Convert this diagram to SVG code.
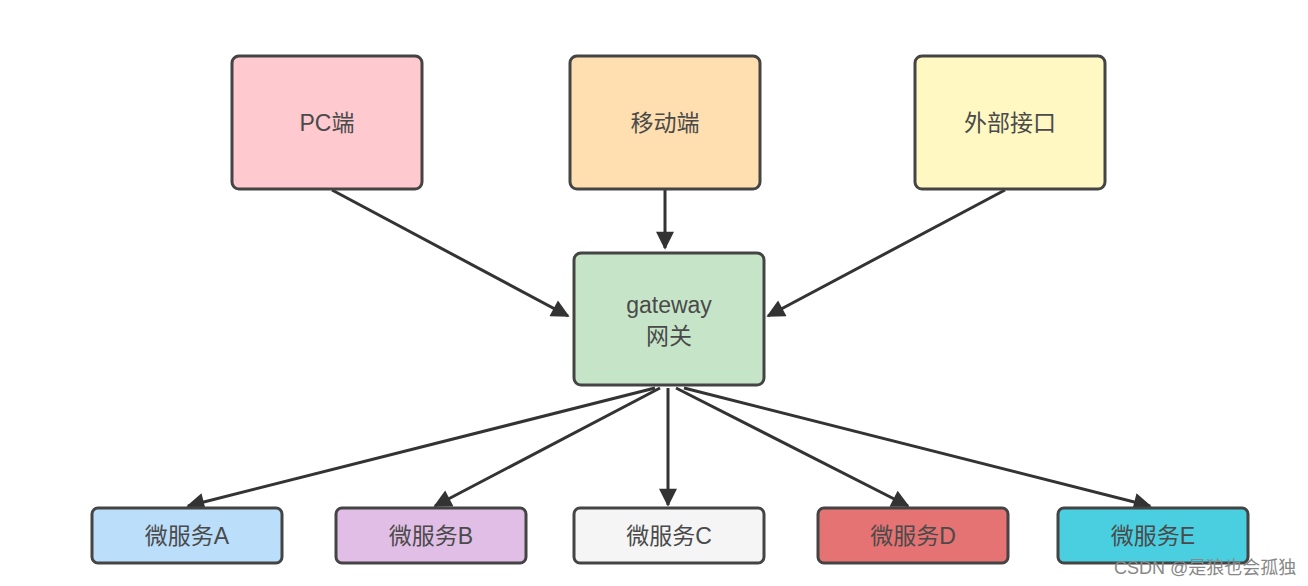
<svg xmlns="http://www.w3.org/2000/svg" width="1308" height="586" viewBox="0 0 1308 586">
<style>
.box{stroke:#444;stroke-width:3}
.t{font-family:"Liberation Sans","Noto Sans CJK SC",sans-serif;font-size:23px;fill:#4a4a4a;text-anchor:middle;dominant-baseline:central}
.c{stroke:#333;stroke-width:3;fill:none;marker-end:url(#ah)}
.wm{font-family:"Liberation Sans","Noto Sans CJK SC",sans-serif;font-size:18px;fill:#888}
</style>
<defs>
<marker id="ah" viewBox="0 0 10 10" refX="9" refY="5" markerWidth="7" markerHeight="6" orient="auto" markerUnits="strokeWidth">
<path d="M0,0 L10,5 L0,10 z" fill="#333"/>
</marker>
</defs>
<rect width="1308" height="586" fill="#fff"/>
<g id="connectors">
<line class="c" x1="332" y1="190" x2="568" y2="316"/>
<line class="c" x1="665" y1="190" x2="665" y2="248"/>
<line class="c" x1="1005" y1="190" x2="768" y2="316"/>
<line class="c" x1="655" y1="388" x2="188" y2="506"/>
<line class="c" x1="660" y1="388" x2="435" y2="506"/>
<line class="c" x1="668" y1="388" x2="668" y2="505"/>
<line class="c" x1="676" y1="388" x2="908" y2="506"/>
<line class="c" x1="684" y1="388" x2="1150" y2="506"/>
</g>
<g id="pc"><rect class="box" x="232" y="56" width="190" height="133" rx="7" fill="#FFC9D0"/><text class="t" x="327" y="123">PC端</text></g>
<g id="mobile"><rect class="box" x="570" y="56" width="190" height="133" rx="7" fill="#FFDFAF"/><text class="t" x="665" y="123">移动端</text></g>
<g id="external"><rect class="box" x="915" y="56" width="190" height="133" rx="7" fill="#FFF8C3"/><text class="t" x="1010" y="123">外部接口</text></g>
<g id="gateway"><rect class="box" x="574" y="253" width="190" height="132" rx="7" fill="#C6E5C8"/><text class="t" x="669" y="305">gateway</text><text class="t" x="669" y="336">网关</text></g>
<g id="svcA"><rect class="box" x="92" y="508" width="190" height="55" rx="6" fill="#BBDEFA"/><text class="t" x="187" y="536">微服务A</text></g>
<g id="svcB"><rect class="box" x="336" y="508" width="190" height="55" rx="6" fill="#E1BEE6"/><text class="t" x="431" y="536">微服务B</text></g>
<g id="svcC"><rect class="box" x="574" y="508" width="190" height="55" rx="6" fill="#F5F5F5"/><text class="t" x="669" y="536">微服务C</text></g>
<g id="svcD"><rect class="box" x="818" y="508" width="190" height="55" rx="6" fill="#E57373"/><text class="t" x="913" y="536">微服务D</text></g>
<g id="svcE"><rect class="box" x="1058" y="508" width="190" height="55" rx="6" fill="#4ACFE0"/><text class="t" x="1153" y="536">微服务E</text></g>
<text class="wm" x="1114" y="574">CSDN @是狼也会孤独</text>
</svg>
